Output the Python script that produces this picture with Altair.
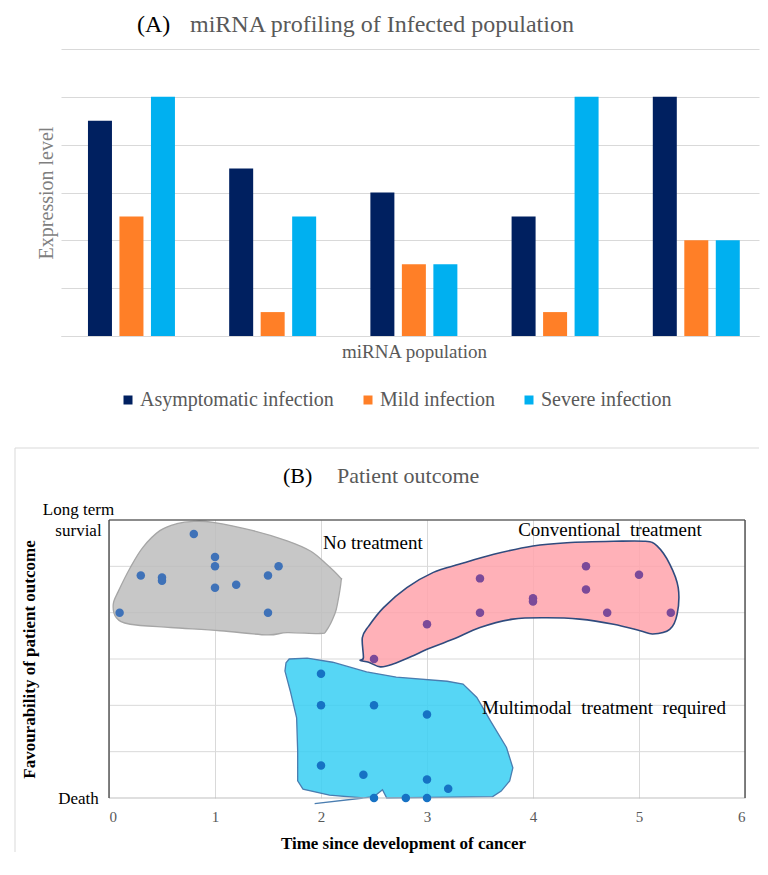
import altair as alt
import pandas as pd

SERIF = "Liberation Serif"

# ---------------- Panel A data ----------------
groups = ["g1", "g2", "g3", "g4", "g5"]
series = ["Asymptomatic infection", "Mild infection", "Severe infection"]
asym = [4.5, 3.5, 3.0, 2.5, 5.0]
mild = [2.5, 0.5, 1.5, 0.5, 2.0]
severe = [5.0, 2.5, 1.5, 5.0, 2.0]
series_colors = ["#002060", "#FF7F27", "#00B0F0"]

# ---------------- Panel B data ----------------
nt_x = [0.8, 1.0, 1.0, 0.3, 0.5, 0.5, 1.5, 1.6, 1.2, 1.0, 0.1, 1.5]
nt_y = [5.7, 5.2, 5.0, 4.8, 4.76, 4.69, 4.8, 5.0, 4.6, 4.54, 4.0, 4.0]
cv_x = [3.5, 4.5, 5.0, 4.5, 4.0, 4.0, 3.5, 4.7, 5.3, 3.0, 2.5]
cv_y = [4.74, 5.0, 4.82, 4.5, 4.31, 4.24, 4.0, 4.0, 4.0, 3.75, 3.0]
mm_x = [2.0, 2.0, 2.5, 3.0, 2.0, 2.4, 3.0, 3.2, 2.5, 2.8, 3.0]
mm_y = [2.68, 2.0, 2.0, 1.8, 0.7, 0.5, 0.4, 0.2, 0.0, 0.0, 0.0]

# hand-drawn region outlines (data units)
grey_x = [0.80, 0.98, 1.36, 1.68, 1.90, 2.05, 2.18, 2.19, 2.16, 2.13, 2.05, 1.99,
          1.68, 1.49, 1.05, 0.58, 0.20, 0.07, 0.04, 0.09, 0.20, 0.32, 0.48, 0.64]
grey_y = [5.97, 5.95, 5.77, 5.55, 5.33, 5.05, 4.76, 4.69, 4.25, 3.97, 3.61, 3.55,
          3.57, 3.52, 3.61, 3.68, 3.75, 3.89, 4.18, 4.47, 4.97, 5.41, 5.77, 5.92]
pink_x = [2.37, 2.45, 2.56, 2.68, 2.87, 3.00, 3.25, 3.50, 3.81, 4.13, 4.44, 4.76,
          5.01, 5.13, 5.29, 5.36, 5.37, 5.29, 5.17, 5.06, 4.76, 4.32, 4.00, 3.63,
          3.31, 3.06, 2.81, 2.59, 2.45, 2.39, 2.40]
pink_y = [2.97, 2.93, 2.83, 2.89, 3.07, 3.21, 3.43, 3.68, 3.86, 3.89, 3.86, 3.75,
          3.61, 3.54, 3.64, 3.97, 4.54, 5.05, 5.44, 5.54, 5.54, 5.51, 5.44, 5.26,
          5.05, 4.87, 4.54, 4.11, 3.71, 3.46, 3.03]
cyan_x = [1.70, 1.87, 2.11, 2.43, 2.71, 3.19, 3.34, 3.47, 3.60, 3.75, 3.81, 3.78,
          3.70, 3.62, 2.62, 2.58, 2.50, 1.94, 2.40, 2.08, 1.83, 1.78, 1.78, 1.77,
          1.71, 1.66, 1.67]
cyan_y = [3.00, 3.02, 2.93, 2.72, 2.61, 2.52, 2.46, 2.17, 1.66, 1.09, 0.65, 0.37,
          0.15, 0.03, 0.00, 0.18, 0.03, -0.12, 0.00, 0.06, 0.19, 0.37, 1.01, 1.73,
          2.31, 2.74, 2.92]

ann_text = ["No treatment", "Conventional\u00a0 treatment", "Multimodal\u00a0 treatment\u00a0 required"]
ann_x = [2.02, 3.86, 3.52]
ann_y = [5.38, 5.66, 1.81]

# ---------------- Panel A ----------------
rows = []
for s, vals in zip(series, [asym, mild, severe]):
    for g, v in zip(groups, vals):
        rows.append({"group": g, "series": s, "value": v})
df_a = pd.DataFrame(rows)

A_W, A_H = 698, 287

bars = alt.Chart(df_a).mark_bar().encode(
    x=alt.X("group:N", sort=groups,
            scale=alt.Scale(paddingInner=0.384, paddingOuter=0.1635, align=0.584),
            axis=alt.Axis(title="miRNA population", labels=False, ticks=False,
                          domain=True, domainColor="#d9d9d9", grid=False,
                          titleFont=SERIF, titleFontSize=19, titleFontWeight="normal",
                          titleColor="#595959", titlePadding=6, titleX=353)),
    xOffset=alt.XOffset("series:N", sort=series,
                        scale=alt.Scale(paddingInner=0.238, paddingOuter=0)),
    y=alt.Y("value:Q", scale=alt.Scale(domain=[0, 6]),
            axis=alt.Axis(title="Expression level", labels=False, ticks=False,
                          domain=False, domainOpacity=0, grid=True, gridColor="#d9d9d9",
                          values=[0, 1, 2, 3, 4, 5, 6],
                          titleFont=SERIF, titleFontSize=20, titleFontWeight="normal",
                          titleColor="#7f7f7f", titlePadding=5)),
    color=alt.Color("series:N", sort=series,
                    scale=alt.Scale(domain=series, range=series_colors),
                    legend=alt.Legend(title=None, orient="none", legendX=57, legendY=341,
                                      direction="horizontal", symbolType="square",
                                      symbolSize=81, symbolStrokeWidth=0,
                                      labelFont=SERIF, labelFontSize=20, labelLimit=400,
                                      labelColor="#595959", labelOffset=2,
                                      columnPadding=24, padding=0)),
)

one = pd.DataFrame({"k": [0]})
title_a1 = alt.Chart(one).mark_text(text="(A)", font=SERIF, fontSize=24, color="#000000",
                                     align="left", baseline="alphabetic").encode(
    x=alt.value(76), y=alt.value(-17))
title_a2 = alt.Chart(one).mark_text(text="miRNA profiling of Infected population", font=SERIF,
                                     fontSize=24, color="#595959",
                                     align="left", baseline="alphabetic").encode(
    x=alt.value(129), y=alt.value(-17))
spacer_a = alt.Chart(one).mark_rule(stroke="white", strokeWidth=1, opacity=0).encode(
    x=alt.value(-40), y=alt.value(-45), y2=alt.value(398))

chart_a = alt.layer(spacer_a, bars, title_a1, title_a2).properties(
    width=A_W, height=A_H, view=alt.ViewConfig(stroke="transparent", strokeWidth=0))

# ---------------- Panel B ----------------
B_W, B_H = 684, 278
xscale = alt.Scale(domain=[0, 6], range=[48, 684], nice=False, zero=False)
yscale = alt.Scale(domain=[0, 6], nice=False, zero=False)
xaxis = alt.Axis(title="Time since development of cancer", values=[0, 1, 2, 3, 4, 5, 6],
                 format="d", grid=True, gridColor="#d9d9d9", domain=False, ticks=False,
                 labelFont=SERIF, labelFontSize=15, labelColor="#595959", labelPadding=11,
                 titleFont=SERIF, titleFontSize=17, titleFontWeight="bold",
                 titleColor="#000000", titlePadding=11, titleX=342)
yaxis = alt.Axis(title="Favourability of patient outcome", values=[0, 6], grid=False,
                 domain=False, ticks=False, tickSize=0, offset=-48,
                 labelExpr="datum.value == 6 ? ['Long term', 'survial'] : (datum.value == 0 ? 'Death' : '')",
                 labelAlign="center", labelBaseline="middle", labelPadding=31,
                 labelOffset={"condition": {"test": "datum.value == 6", "value": -11}, "value": 0},
                 labelLineHeight=21, labelFont=SERIF, labelFontSize=17, labelColor="#000000",
                 titleFont=SERIF, titleFontSize=17, titleFontWeight="bold",
                 titleColor="#000000", titlePadding=4)


def bx(field):
    return alt.X(field, type="quantitative", scale=xscale, axis=xaxis)


def bx2(field):
    return alt.X2(field)


def by(field):
    return alt.Y(field, type="quantitative", scale=yscale, axis=yaxis)


frame_top = alt.Chart(one).mark_rule(color="#d9d9d9", strokeWidth=1).encode(
    x=alt.value(-46), x2=alt.value(698), y=alt.value(-72))
frame_left = alt.Chart(one).mark_rule(color="#d9d9d9", strokeWidth=1).encode(
    x=alt.value(-46), y=alt.value(-72), y2=alt.value(332))

grid_df = pd.DataFrame({"f": [1, 2, 3, 4, 5], "t": [0] * 5, "t1": [6] * 5})
grid_y = alt.Chart(grid_df).mark_rule(color="#d9d9d9", strokeWidth=1).encode(
    x=bx("t"), x2=bx2("t1"), y=by("f"))


def polygon(xs, ys, fill, stroke, sw, interp):
    d = pd.DataFrame({"t": xs, "f": ys, "i": list(range(len(xs)))})
    return alt.Chart(d).mark_line(interpolate=interp, fill=fill, fillOpacity=0.85,
                                  stroke=stroke, strokeWidth=sw).encode(
        x=bx("t"), y=by("f"), order="i:Q")


blob_grey = polygon(grey_x, grey_y, "#BDBDBD", "#A6A6A6", 1.3, "cardinal-closed")
blob_pink = polygon(pink_x, pink_y, "#FFA3AB", "#2F4B7E", 1.6, "cardinal-closed")
blob_cyan = polygon(cyan_x, cyan_y, "#38CFF3", "#4A7DB0", 1.3, "linear-closed")

bottom_df = pd.DataFrame({"f": [0], "t": [0], "t1": [6]})
bottom_rule = alt.Chart(bottom_df).mark_rule(color="#bfbfbf", strokeWidth=1).encode(
    x=bx("t"), x2=bx2("t1"), y=by("f"))
top_df = pd.DataFrame({"f": [6], "t": [0], "t1": [6]})
top_rule = alt.Chart(top_df).mark_rule(color="#1a1a1a", strokeWidth=1.2).encode(
    x=bx("t"), x2=bx2("t1"), y=by("f"))
side_df = pd.DataFrame({"t": [0, 6], "f": [0, 0], "f1": [6, 6]})
side_rules = alt.Chart(side_df).mark_rule(color="#4d4d4d", strokeWidth=1.4).encode(
    x=bx("t"), y=by("f"), y2=alt.Y2("f1"))

pts = pd.DataFrame({
    "t": nt_x + cv_x + mm_x,
    "f": nt_y + cv_y + mm_y,
    "grp": ["No treatment"] * len(nt_x) + ["Conventional"] * len(cv_x) + ["Multimodal"] * len(mm_x),
})
dots = alt.Chart(pts).mark_circle(size=72, opacity=1).encode(
    x=bx("t"), y=by("f"),
    color=alt.Color("grp:N",
                    scale=alt.Scale(domain=["No treatment", "Conventional", "Multimodal"],
                                    range=["#3F72B8", "#7B4A99", "#1672C4"]),
                    legend=None))

ann_df = pd.DataFrame({"t": ann_x, "f": ann_y, "label": ann_text})
ann = alt.Chart(ann_df).mark_text(font=SERIF, fontSize=19, color="#000000",
                                  align="left", baseline="alphabetic").encode(
    x=bx("t"), y=by("f"), text="label:N")

title_b1 = alt.Chart(one).mark_text(text="(B)", font=SERIF, fontSize=22, color="#000000",
                                     align="left", baseline="alphabetic").encode(
    x=alt.value(222), y=alt.value(-37))
title_b2 = alt.Chart(one).mark_text(text="Patient outcome", font=SERIF, fontSize=22,
                                     color="#595959", align="left",
                                     baseline="alphabetic").encode(
    x=alt.value(276), y=alt.value(-37))

chart_b = alt.layer(frame_top, frame_left, grid_y, blob_grey, blob_pink, blob_cyan,
                    bottom_rule, top_rule, side_rules, dots, ann, title_b1, title_b2
                    ).properties(width=B_W, height=B_H,
                                 view=alt.ViewConfig(stroke="transparent", strokeWidth=0))

chart = alt.vconcat(chart_a, chart_b, spacing=0).resolve_scale(
    color="independent", x="independent", y="independent"
).properties(
    padding={"left": 6, "top": -4, "right": 0, "bottom": 0}
).configure_view(stroke="transparent", strokeWidth=0).configure(background="white")

chart.save("out.html", embed_options={"renderer": "svg", "actions": False})
